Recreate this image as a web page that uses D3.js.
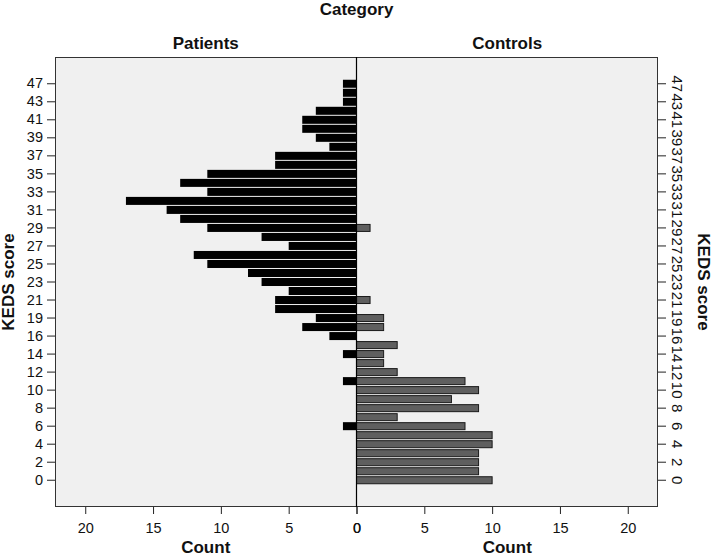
<!DOCTYPE html>
<html>
<head>
<meta charset="utf-8">
<script src="https://cdn.jsdelivr.net/npm/d3@7"></script>
<style>
  html, body { margin: 0; padding: 0; background: #fff; }
  svg { display: block; font-family: "Liberation Sans", Arial, sans-serif; }
</style>
</head>
<body>
<svg id="chart" width="712" height="557"></svg>
<script>
// KEDS score categories (top to bottom)
const scores = ["47","45","43","42","41","40","39","38","37","36","35","34","33","32","31","30",
  "29","28","27","26","25","24","23","22","21","20","19","17","16","15","14","13","12","11",
  "10","9","8","7","6","5","4","3","2","1","0"];
const patients = [1,1,1,3,4,4,3,2,6,6,11,13,11,17,14,13,
  11,7,5,12,11,8,7,5,6,6,3,4,2,0,1,0,0,1,
  0,0,0,0,1,0,0,0,0,0,0];
const controls = [0,0,0,0,0,0,0,0,0,0,0,0,0,0,0,0,
  1,0,0,0,0,0,0,0,1,0,2,2,0,3,2,2,3,8,
  9,7,9,3,8,10,10,9,9,9,10];
const countTicks = [0,5,10,15,20];
const groups = ["Patients","Controls"];
const yTickLabels = scores.filter((d,i) => i % 2 === 0);

(function () {
const svg = d3.select("#chart");
const pL = 55, pR = 658, pT = 57, pB = 507;
const mid = (pL + pR) / 2;
const maxCount = 22.23;

const y = d3.scaleBand().domain(scores).range([pT, pB]).paddingInner(0).paddingOuter(2.47);
const xL = d3.scaleLinear().domain([0, maxCount]).range([mid, pL]);
const xR = d3.scaleLinear().domain([0, maxCount]).range([mid, pR]);

// plot background
svg.append("rect").attr("x", pL).attr("y", pT).attr("width", pR-pL).attr("height", pB-pT)
  .attr("fill", "#f0f0f0");

// patients bars
svg.append("g").selectAll("rect").data(scores).join("rect")
  .attr("x", (d,i) => xL(patients[i]))
  .attr("y", d => y(d) + 0.5)
  .attr("width", (d,i) => xL(0) - xL(patients[i]))
  .attr("height", y.bandwidth() - 1)
  .attr("fill", "#000")
  .attr("display", (d,i) => patients[i] > 0 ? null : "none");

// controls bars
svg.append("g").selectAll("rect").data(scores).join("rect")
  .attr("x", (d,i) => xR(0))
  .attr("y", d => y(d) + 1)
  .attr("width", (d,i) => xR(controls[i]) - xR(0))
  .attr("height", y.bandwidth() - 2)
  .attr("fill", "#5f5f5f")
  .attr("stroke", "#1a1a1a")
  .attr("stroke-width", 1)
  .attr("display", (d,i) => controls[i] > 0 ? null : "none");

// frame and center line
svg.append("rect").attr("x", pL + 0.5).attr("y", pT + 0.5).attr("width", pR-pL-1).attr("height", pB-pT-1)
  .attr("fill", "none").attr("stroke", "#333").attr("stroke-width", 1);
svg.append("line").attr("x1", mid).attr("x2", mid).attr("y1", pT).attr("y2", pB)
  .attr("stroke", "#000").attr("stroke-width", 1.2);

// left y axis
const gyL = svg.append("g").attr("transform", `translate(${pL},0)`)
  .call(d3.axisLeft(y).tickValues(yTickLabels).tickSize(8).tickPadding(4));
gyL.select(".domain").remove();
gyL.selectAll(".tick line").attr("stroke", "#222");
gyL.selectAll(".tick text").attr("font-size", 14.5).attr("fill", "#111")
  .attr("font-family", "'Liberation Sans', Arial, sans-serif");

// right y axis (rotated labels)
const gyR = svg.append("g").attr("transform", `translate(${pR},0)`)
  .call(d3.axisRight(y).tickValues(yTickLabels).tickSize(8));
gyR.select(".domain").remove();
gyR.selectAll(".tick line").attr("stroke", "#222");
gyR.selectAll(".tick text")
  .attr("x", 0).attr("dy", 0)
  .attr("transform", "translate(14,0) rotate(90)")
  .attr("text-anchor", "middle")
  .attr("font-size", 15).attr("fill", "#111")
  .attr("font-family", "'Liberation Sans', Arial, sans-serif");

// bottom axes
[xL, xR].forEach(sc => {
  const g = svg.append("g").attr("transform", `translate(0,${pB})`)
    .call(d3.axisBottom(sc).tickValues(countTicks).tickSize(7).tickPadding(9));
  g.select(".domain").remove();
  g.selectAll(".tick line").attr("stroke", "#222");
  g.selectAll(".tick text").attr("font-size", 14.5).attr("fill", "#111")
    .attr("font-family", "'Liberation Sans', Arial, sans-serif");
});

// titles
const bold = sel => sel.attr("font-weight", "bold").attr("font-size", 17).attr("fill", "#111").attr("text-anchor", "middle");
svg.append("text").attr("x", mid).attr("y", 15).text("Category").call(bold);
svg.append("text").attr("x", (pL+mid)/2).attr("y", 49).text(groups[0]).call(bold);
svg.append("text").attr("x", (mid+pR)/2).attr("y", 49).text(groups[1]).call(bold);
svg.append("text").attr("x", (pL+mid)/2).attr("y", 553).text("Count").call(bold);
svg.append("text").attr("x", (mid+pR)/2).attr("y", 553).text("Count").call(bold);
svg.append("text").attr("transform", `translate(14,${(pT+pB)/2}) rotate(-90)`).text("KEDS score").call(bold);
svg.append("text").attr("transform", `translate(698,${(pT+pB)/2}) rotate(90)`).text("KEDS score").call(bold);
})();
</script>
</body>
</html>
